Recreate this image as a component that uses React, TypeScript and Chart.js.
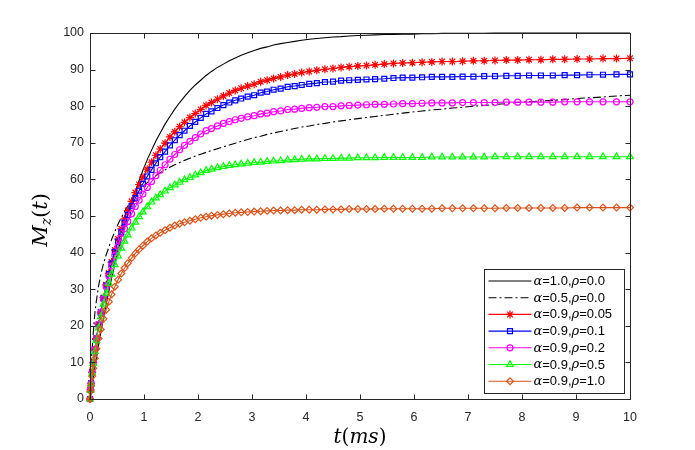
import React, { useEffect, useRef } from 'react';
import { Chart, registerables } from 'chart.js';
import { drawPoint } from 'chart.js/helpers';

Chart.register(...registerables);

// tempo (ms) onde cada curva foi amostrada
const timeMs = [
  0, 0.01, 0.02, 0.04, 0.06, 0.09, 0.12, 0.16, 0.2, 0.25,
  0.3, 0.35, 0.4, 0.46, 0.52, 0.58, 0.64, 0.7, 0.77, 0.84,
  0.91, 0.98, 1.06, 1.14, 1.22, 1.3, 1.39, 1.48, 1.57, 1.66,
  1.75, 1.85, 1.95, 2.05, 2.15, 2.25, 2.36, 2.47, 2.58, 2.69,
  2.8, 2.92, 3.04, 3.16, 3.28, 3.4, 3.53, 3.66, 3.79, 3.92,
  4.06, 4.2, 4.35, 4.5, 4.65, 4.8, 4.96, 5.12, 5.28, 5.45,
  5.62, 5.79, 5.97, 6.15, 6.33, 6.52, 6.71, 6.9, 7.1, 7.3,
  7.5, 7.71, 7.92, 8.13, 8.35, 8.57, 8.79, 9.02, 9.25, 9.5,
  9.75, 10,
];

const mzA10R00 = [
  0, 1.0, 2.0, 3.9, 5.8, 8.6, 11.3, 14.8, 18.1, 22.1,
  25.9, 29.5, 33.0, 36.9, 40.5, 44.0, 47.3, 50.3, 53.7, 56.8,
  59.7, 62.5, 65.4, 68.0, 70.5, 72.7, 75.1, 77.2, 79.2, 81.0,
  82.6, 84.3, 85.8, 87.1, 88.4, 89.5, 90.6, 91.5, 92.4, 93.2,
  93.9, 94.6, 95.2, 95.8, 96.2, 96.7, 97.1, 97.4, 97.7, 98.0,
  98.3, 98.5, 98.7, 98.9, 99.0, 99.2, 99.3, 99.4, 99.5, 99.6,
  99.6, 99.7, 99.7, 99.8, 99.8, 99.9, 99.9, 99.9, 99.9, 99.9,
  100, 100, 100, 100, 100, 100, 100, 100, 100, 100,
  100, 100,
];

const mzA05R00 = [
  0, 6.0, 9.0, 13.5, 18.0, 23.5, 27.0, 31.0, 34.0, 37.0,
  39.4, 41.5, 43.6, 45.8, 47.8, 49.6, 51.2, 52.7, 54.2, 55.6,
  56.9, 58.0, 59.1, 60.1, 61.0, 61.8, 62.6, 63.3, 64.0, 64.6,
  65.2, 65.8, 66.4, 66.9, 67.4, 67.9, 68.4, 68.9, 69.4, 69.9,
  70.4, 70.9, 71.4, 71.8, 72.3, 72.7, 73.1, 73.5, 73.9, 74.3,
  74.6, 75.0, 75.3, 75.7, 76.0, 76.3, 76.6, 76.9, 77.2, 77.5,
  77.8, 78.1, 78.4, 78.7, 79.0, 79.2, 79.5, 79.7, 80.0, 80.2,
  80.5, 80.7, 81.0, 81.2, 81.4, 81.6, 81.8, 82.1, 82.3, 82.5,
  82.8, 83.0,
];

const mzA09R005 = [
  0, 2.5, 4.3, 7.3, 9.9, 13.5, 16.6, 20.4, 23.7, 27.7,
  31.2, 34.4, 37.4, 40.7, 43.7, 46.5, 49.2, 51.5, 54.0, 56.4,
  58.6, 60.6, 62.8, 64.7, 66.6, 68.3, 69.9, 71.6, 73.0, 74.4,
  75.6, 76.9, 78.0, 79.1, 80.2, 81.0, 81.9, 82.8, 83.6, 84.3,
  84.9, 85.5, 86.0, 86.7, 87.1, 87.6, 88.0, 88.5, 88.8, 89.2,
  89.5, 89.8, 90.1, 90.3, 90.6, 90.8, 91.0, 91.1, 91.3, 91.5,
  91.7, 91.8, 91.9, 92.0, 92.1, 92.2, 92.2, 92.3, 92.4, 92.4,
  92.5, 92.6, 92.6, 92.7, 92.7, 92.8, 92.8, 92.9, 92.9, 93.0,
  93.0, 93.1,
];

const mzA09R01 = [
  0, 2.5, 4.3, 7.3, 9.9, 13.5, 16.5, 20.3, 23.6, 27.5,
  31.0, 34.1, 37.0, 40.2, 43.0, 45.6, 48.2, 50.3, 52.7, 54.9,
  56.9, 58.8, 60.8, 62.6, 64.4, 66.1, 67.6, 69.3, 70.7, 72.1,
  73.3, 74.6, 75.7, 76.8, 77.9, 78.6, 79.5, 80.3, 81.0, 81.6,
  82.1, 82.6, 83.0, 83.7, 84.0, 84.5, 84.8, 85.3, 85.5, 85.8,
  86.1, 86.3, 86.6, 86.7, 87.0, 87.1, 87.2, 87.3, 87.4, 87.5,
  87.7, 87.8, 87.8, 87.9, 88.0, 88.0, 88.0, 88.1, 88.1, 88.2,
  88.2, 88.3, 88.3, 88.4, 88.4, 88.4, 88.5, 88.5, 88.6, 88.6,
  88.7, 88.7,
];

const mzA09R02 = [
  0, 2.5, 4.3, 7.3, 9.9, 13.5, 16.5, 20.3, 23.5, 27.3,
  30.7, 33.6, 36.3, 39.2, 41.7, 44.0, 46.5, 48.5, 50.6, 52.6,
  54.3, 56.0, 57.8, 59.4, 61.0, 62.5, 64.0, 65.5, 66.8, 68.1,
  69.3, 70.4, 71.4, 72.4, 73.3, 73.9, 74.6, 75.3, 75.8, 76.3,
  76.7, 77.1, 77.4, 77.9, 78.1, 78.5, 78.7, 79.1, 79.2, 79.4,
  79.6, 79.7, 79.9, 79.9, 80.1, 80.2, 80.3, 80.4, 80.5, 80.5,
  80.6, 80.7, 80.7, 80.8, 80.9, 80.9, 80.9, 81.0, 81.0, 81.0,
  81.0, 81.1, 81.1, 81.1, 81.1, 81.1, 81.2, 81.2, 81.2, 81.2,
  81.2, 81.2,
];

const mzA09R05 = [
  0, 2.4, 4.2, 7.1, 9.7, 13.0, 16.0, 19.4, 22.5, 25.9,
  28.9, 31.6, 34.1, 36.7, 39.1, 41.2, 43.1, 44.8, 46.7, 48.3,
  49.8, 51.1, 52.5, 53.8, 54.9, 55.8, 56.8, 57.7, 58.5, 59.2,
  59.9, 60.5, 61.2, 61.8, 62.4, 62.8, 63.2, 63.5, 63.8, 64.0,
  64.2, 64.4, 64.6, 64.7, 64.9, 65.0, 65.1, 65.3, 65.4, 65.5,
  65.6, 65.6, 65.7, 65.7, 65.8, 65.8, 65.9, 65.9, 65.9, 66.0,
  66.0, 66.0, 66.0, 66.0, 66.1, 66.1, 66.1, 66.1, 66.1, 66.1,
  66.2, 66.2, 66.2, 66.2, 66.2, 66.2, 66.2, 66.2, 66.2, 66.2,
  66.2, 66.2,
];

const mzA09R10 = [
  0, 2.1, 3.6, 6.2, 8.4, 11.1, 13.7, 16.5, 19.0, 21.9,
  24.4, 26.6, 28.6, 30.7, 32.6, 34.3, 35.8, 37.1, 38.5, 39.8,
  40.9, 41.9, 43.0, 43.9, 44.7, 45.4, 46.1, 46.8, 47.4, 47.9,
  48.3, 48.7, 49.1, 49.5, 49.8, 50.1, 50.3, 50.5, 50.7, 50.9,
  51.0, 51.1, 51.2, 51.3, 51.4, 51.5, 51.5, 51.6, 51.6, 51.7,
  51.7, 51.7, 51.8, 51.8, 51.8, 51.9, 51.9, 51.9, 51.9, 52.0,
  52.0, 52.0, 52.0, 52.0, 52.0, 52.1, 52.1, 52.1, 52.1, 52.1,
  52.1, 52.2, 52.2, 52.2, 52.2, 52.2, 52.2, 52.3, 52.3, 52.3,
  52.3, 52.3,
];

const legendAlpha = ['1.0', '0.5', '0.9', '0.9', '0.9', '0.9', '0.9'];
const legendRho = ['0.0', '0.0', '0.05', '0.1', '0.2', '0.5', '1.0'];

const xTicks = [0, 1, 2, 3, 4, 5, 6, 7, 8, 9, 10];
const yTicks = [0, 10, 20, 30, 40, 50, 60, 70, 80, 90, 100];

const AXIS_COLOR = '#262626';
const SANS = '"Liberation Sans", Arial, sans-serif';
const SERIF = '"DejaVu Serif", "Liberation Serif", serif';

type Seg = { text: string; font: string; dy?: number };

function drawSegs(ctx: CanvasRenderingContext2D, segs: Seg[], x: number, y: number, align: 'left' | 'center') {
  let w = 0;
  segs.forEach(s => { ctx.font = s.font; w += ctx.measureText(s.text).width; });
  let cx = align === 'center' ? x - w / 2 : x;
  ctx.textAlign = 'left';
  segs.forEach(s => {
    ctx.font = s.font;
    ctx.fillText(s.text, cx, y + (s.dy || 0));
    cx += ctx.measureText(s.text).width;
  });
}

// caixa do eixo com marcas para dentro (estilo MATLAB)
const framePlugin = {
  id: 'frame',
  afterDatasetsDraw(chart: any) {
    const { ctx, chartArea: a, scales } = chart;
    const L = Math.round(a.left) + 0.5;
    const R = Math.round(a.right) + 0.5;
    const T = Math.round(a.top) + 0.5;
    const B = Math.round(a.bottom) + 0.5;
    ctx.save();
    ctx.strokeStyle = AXIS_COLOR;
    ctx.lineWidth = 1;
    ctx.setLineDash([]);
    ctx.strokeRect(L, T, R - L, B - T);
    ctx.beginPath();
    xTicks.forEach(v => {
      const px = Math.round(scales.x.getPixelForValue(v)) + 0.5;
      ctx.moveTo(px, B); ctx.lineTo(px, B - 5);
      ctx.moveTo(px, T); ctx.lineTo(px, T + 5);
    });
    yTicks.forEach(v => {
      const py = Math.round(scales.y.getPixelForValue(v)) + 0.5;
      ctx.moveTo(L, py); ctx.lineTo(L + 5, py);
      ctx.moveTo(R, py); ctx.lineTo(R - 5, py);
    });
    ctx.stroke();

    // títulos dos eixos
    ctx.fillStyle = '#000';
    ctx.textBaseline = 'alphabetic';
    drawSegs(ctx, [
      { text: 't', font: `italic 20px ${SERIF}` },
      { text: '(', font: `20px ${SERIF}` },
      { text: 'ms', font: `italic 20px ${SERIF}` },
      { text: ')', font: `20px ${SERIF}` },
    ], (a.left + a.right) / 2, 443, 'center');

    ctx.translate(47, (a.top + a.bottom) / 2 + 4);
    ctx.rotate(-Math.PI / 2);
    drawSegs(ctx, [
      { text: 'M', font: `italic 21px ${SERIF}` },
      { text: 'z', font: `italic 14px ${SERIF}`, dy: 4 },
      { text: '(', font: `21px ${SERIF}` },
      { text: 't', font: `italic 21px ${SERIF}` },
      { text: ')', font: `21px ${SERIF}` },
    ], 0, 0, 'center');
    ctx.restore();
  },
};

// legenda dentro do gráfico, canto inferior direito
const legendPlugin = {
  id: 'boxLegend',
  afterDraw(chart: any) {
    const { ctx, chartArea: a } = chart;
    const left = Math.round(a.right) - 146 + 0.5;
    const right = Math.round(a.right) - 6 + 0.5;
    const top = Math.round(a.bottom) - 130 + 0.5;
    const bottom = Math.round(a.bottom) - 6 + 0.5;
    ctx.save();
    ctx.fillStyle = '#fff';
    ctx.fillRect(left, top, right - left, bottom - top);
    ctx.strokeStyle = AXIS_COLOR;
    ctx.lineWidth = 1;
    ctx.strokeRect(left, top, right - left, bottom - top);

    chart.data.datasets.forEach((ds: any, i: number) => {
      const y = top + 11.5 + i * 16.7;
      const x0 = left + 4;
      const x1 = left + 47;
      ctx.setLineDash(ds.borderDash || []);
      ctx.strokeStyle = ds.borderColor;
      ctx.lineWidth = ds.borderWidth;
      ctx.beginPath();
      ctx.moveTo(x0, y);
      ctx.lineTo(x1, y);
      ctx.stroke();
      ctx.setLineDash([]);
      if (ds.pointRadius > 0) {
        ctx.fillStyle = ds.pointBackgroundColor;
        ctx.strokeStyle = ds.pointBorderColor;
        ctx.lineWidth = ds.pointBorderWidth;
        drawPoint(ctx, {
          pointStyle: ds.pointStyle,
          radius: ds.pointRadius,
          rotation: 0,
          borderWidth: ds.pointBorderWidth,
        }, (x0 + x1) / 2, y);
      }
      ctx.fillStyle = '#000';
      ctx.textBaseline = 'middle';
      drawSegs(ctx, [
        { text: 'α', font: `italic 13px ${SERIF}` },
        { text: `=${legendAlpha[i]},`, font: `13px ${SANS}` },
        { text: 'ρ', font: `italic 13px ${SERIF}` },
        { text: `=${legendRho[i]}`, font: `13px ${SANS}` },
      ], left + 49, y + 0.5, 'left');
    });
    ctx.restore();
  },
};

const toPoints = (vals: number[]) => timeMs.map((t, i) => ({ x: t, y: vals[i] }));

const App: React.FC = () => {
  const canvasRef = useRef<HTMLCanvasElement>(null);
  const chartRef = useRef<Chart | null>(null);

  useEffect(() => {
    if (!canvasRef.current) return;
    if (chartRef.current) chartRef.current.destroy();

    const base = { borderWidth: 1.1, pointRadius: 0, tension: 0, clip: false as const };
    const marked = (color: string, style: string, radius: number, order: number, vals: number[], fill = false) => ({
      ...base,
      data: toPoints(vals),
      borderColor: color,
      pointStyle: style,
      pointRadius: radius,
      pointBorderColor: color,
      pointBackgroundColor: fill ? color : 'rgba(0,0,0,0)',
      pointBorderWidth: 1.2,
      order,
    });

    const datasets: any[] = [
      { ...base, data: toPoints(mzA10R00), borderColor: '#000000', order: 6 },
      { ...base, data: toPoints(mzA05R00), borderColor: '#000000', borderDash: [8, 3, 2, 3], order: 5 },
      marked('#ff0000', 'star', 4, 4, mzA09R005, true),
      marked('#0000ff', 'rect', 3.5, 3, mzA09R01),
      marked('#ff00ff', 'circle', 3, 2, mzA09R02),
      marked('#00ff00', 'triangle', 3.8, 1, mzA09R05),
      marked('#d95319', 'rectRot', 3.4, 0, mzA09R10),
    ];

    const tickFont = { family: SANS, size: 12.5 };

    chartRef.current = new Chart(canvasRef.current, {
      type: 'line',
      data: { datasets },
      options: {
        animation: false,
        responsive: true,
        maintainAspectRatio: false,
        events: [],
        layout: { padding: { left: 0, top: 33, right: 65, bottom: 0 } },
        plugins: { legend: { display: false }, tooltip: { enabled: false } },
        scales: {
          x: {
            type: 'linear',
            min: 0,
            max: 10,
            afterFit: (s: any) => { s.height = 51; },
            afterBuildTicks: (s: any) => { s.ticks = xTicks.map(v => ({ value: v })); },
            grid: { display: false, drawTicks: false },
            border: { display: false },
            ticks: { padding: 11, color: AXIS_COLOR, font: tickFont, maxRotation: 0, autoSkip: false },
          },
          y: {
            type: 'linear',
            min: 0,
            max: 100,
            afterFit: (s: any) => { s.width = 90; },
            afterBuildTicks: (s: any) => { s.ticks = yTicks.map(v => ({ value: v })); },
            grid: { display: false, drawTicks: false },
            border: { display: false },
            ticks: { padding: 6, color: AXIS_COLOR, font: tickFont, autoSkip: false },
          },
        },
      },
      plugins: [framePlugin, legendPlugin],
    } as any);

    return () => {
      if (chartRef.current) {
        chartRef.current.destroy();
        chartRef.current = null;
      }
    };
  }, []);

  return (
    <div style={{ position: 'absolute', left: 0, top: 0, width: 695, height: 450, background: '#fff' }}>
      <canvas ref={canvasRef} />
    </div>
  );
};

export default App;
